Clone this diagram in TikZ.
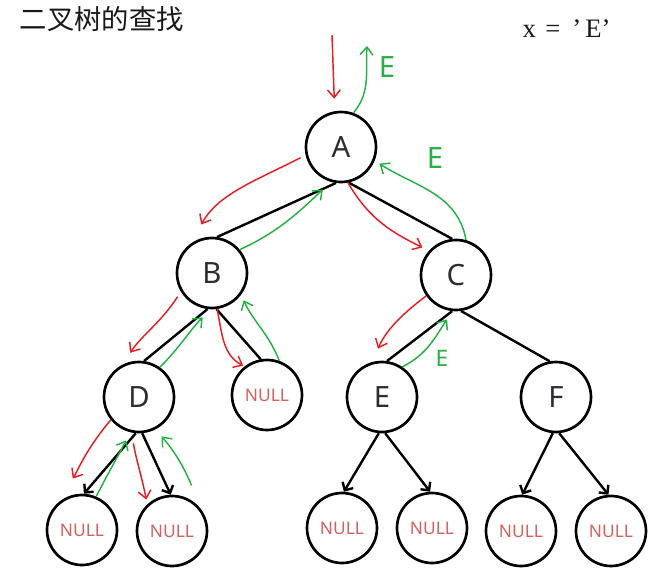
\documentclass[tikz,border=0pt]{standalone}
\usepackage{fontspec}
\usepackage{tikz}
\usetikzlibrary{arrows.meta, positioning}
\newfontfamily\labelfont{Noto Sans}
\newfontfamily\cjkfont{Noto Sans CJK SC}
\newfontfamily\quotefont{Liberation Serif}
\definecolor{seekred}{RGB}{232,30,36}
\definecolor{seekgreen}{RGB}{40,175,70}
\definecolor{nullred}{RGB}{214,96,96}
\definecolor{inkgray}{RGB}{45,45,52}
\tikzset{
  vert/.style     = {circle, draw=black, line width=2pt, minimum size=52.5pt,
                     inner sep=0pt, text=inkgray,
                     font=\labelfont\fontsize{22}{22}\selectfont},
  nullv/.style    = {vert, text=nullred, font=\labelfont\fontsize{13}{13}\selectfont},
  edge/.style     = {line width=1.8pt, black},
  child/.style    = {edge, -{Straight Barb[angle=90:6.5pt]}},
  goin/.style     = {-{Straight Barb[angle=80:7.5pt]}, line width=1.1pt, seekred},
  goback/.style   = {-{Straight Barb[angle=80:7.5pt]}, line width=1.1pt, seekgreen},
  hitlabel/.style = {text=seekgreen, font=\labelfont\fontsize{22}{22}\selectfont},
}
\begin{document}
\begin{tikzpicture}[x=0.75pt, y=-0.75pt, on grid]
  \useasboundingbox (0,0) rectangle (662,583);

  % title and key
  \node[anchor=west, text=black!90, font=\cjkfont\fontsize{20.5}{20.5}\selectfont] (title) at (15,19) {二叉树的查找};
  \node[anchor=west, text=black!90, font=\quotefont\fontsize{20}{20}\selectfont] (key) at (518,29)
    {x\hspace{7pt}=\hspace{9pt}’\hspace{3pt}E’};

  % the tree
  \node[vert] (A) at (341,147) {A};
  \node[vert, below left=94.5pt and 96.75pt of A]  (B) {B};
  \node[vert, below right=96pt and 86.25pt of A]   (C) {C};
  \node[vert, below left=93pt and 54.75pt of B]    (D) {D};
  \node[nullv, below right=91.5pt and 41.25pt of B] (n1) {NULL};
  \node[vert, below left=91.5pt and 55.5pt of C]   (E) {E};
  \node[vert, below right=91.5pt and 75pt of C]    (F) {F};
  \node[nullv, below left=99.75pt and 42.75pt of D]  (n2) {NULL};
  \node[nullv, below right=100.5pt and 24.75pt of D] (n3) {NULL};
  \node[nullv, below left=98.25pt and 30pt of E]     (n4) {NULL};
  \node[nullv, below right=98.25pt and 37.5pt of E]  (n5) {NULL};
  \node[nullv, below left=100.5pt and 26.25pt of F]  (n6) {NULL};
  \node[nullv, below right=100.5pt and 41.25pt of F] (n7) {NULL};

  \draw[edge] (A.262) -- (B.82);
  \draw[edge] (A.282) -- (C.96);
  \draw[edge] (B.263) -- (D.82);
  \draw[edge] (B.277) -- (n1.100);
  \draw[edge] (C.264) -- (E.82);
  \draw[edge] (C.278) -- (F.100);
  \foreach \p/\c/\a/\b in {D/n2/265/87, D/n3/275/92, E/n4/265/87,
                           E/n5/275/93, F/n6/265/88, F/n7/275/94}
    \draw[child] (\p.\a) -- (\c.\b);

  % search path
  \coordinate (entry) at (332,35);
  \coordinate (exit)  at (367,46);
  \draw[goin, shorten >=9.4pt] (entry) -- (A.100);
  \draw[goback] (A.70) to[out=50, in=267] (exit);
  \node[hitlabel] (e1) at (387,67) {E};

  \draw[goin, shorten <=4.2pt, shorten >=16.4pt] (A.193) to[out=207, in=61] (B.126);
  \draw[goback, shorten >=8.5pt] (B.40) to[out=25, in=223] (A.254);
  \draw[goin, shorten >=5.5pt] (A.281) to[out=300, in=154] (C.138);
  \draw[goback, shorten >=4.2pt] (C.74) to[out=100, in=327] (A.338);
  \node[hitlabel] (e2) at (435,158) {E};

  \draw[goin, shorten <=4.5pt, shorten >=11pt] (B.211) to[out=237, in=56] (D.118);
  \draw[goback, shorten >=8.5pt] (D.55) to[out=45, in=225] (B.268);
  \draw[goin, shorten >=1.2pt] (B.278) to[out=282, in=153] (n1.128);
  \draw[goback, shorten >=4.5pt] (n1.70) to[out=112, in=295] (B.323);

  \draw[goin, shorten >=11pt] (C.215) to[out=217, in=66] (E.106);
  \draw[goback, shorten >=7.5pt] (E.56) to[out=27, in=235] (C.265);
  \node[hitlabel, font=\labelfont\fontsize{17}{17}\selectfont] (e3) at (442,358) {E};

  \draw[goin, shorten >=22pt] (D.219) to[out=230, in=58] (n2.133);
  \draw[goback, shorten >=6.75pt] (n2.67) to[out=63, in=243] (D.256);
  \draw[goin, shorten <=8.2pt, shorten >=3.7pt] (D.258) to[out=280, in=101] (n3.133);
  \draw[goback, shorten <=21pt, shorten >=7pt] (n3.33) to[out=113, in=311] (D.297);
\end{tikzpicture}
\end{document}
